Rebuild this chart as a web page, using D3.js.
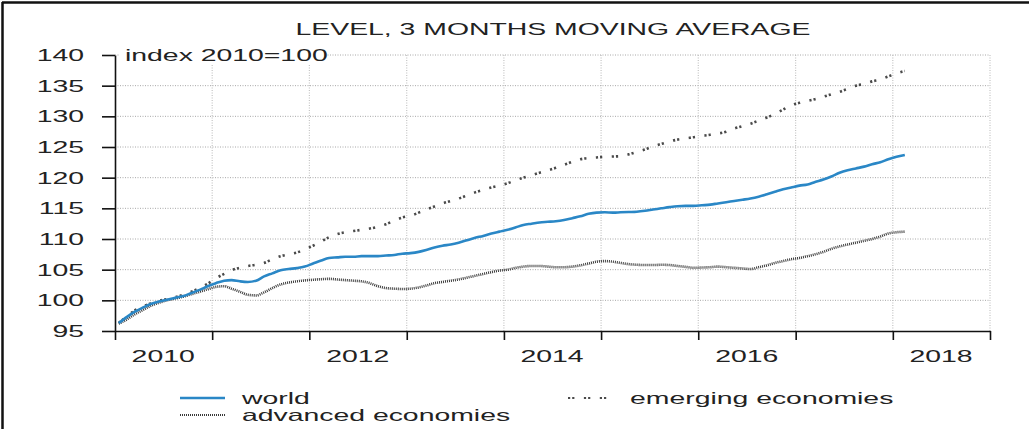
<!DOCTYPE html>
<html>
<head>
<meta charset="utf-8">
<script src="https://cdn.jsdelivr.net/npm/d3@7"></script>
<style>
  body { margin: 0; background: #fff; }
  text { font-family: "Liberation Sans", Arial, sans-serif; fill: #222; }
</style>
</head>
<body>
<div id="chart"></div>
<script>
// monthly data, Jan 2010 - Feb 2018, index 2010=100
var months = d3.timeMonth.range(new Date(2010, 0, 1), new Date(2018, 2, 1)).map(function(d) {
    return new Date(d.getFullYear(), d.getMonth(), 15);
});

var world = [
    96.3, 97.3, 98.1, 98.8, 99.4, 99.8, 100.1, 100.4, 100.7, 101.2, 101.7, 102.3,
    102.8, 103.2, 103.3, 103.1, 103.0, 103.2, 103.9, 104.4, 104.9, 105.1, 105.25, 105.5,
    106.0, 106.5, 106.9, 107.0, 107.1, 107.1, 107.2, 107.2, 107.2, 107.3, 107.4, 107.6,
    107.7, 107.9, 108.2, 108.6, 108.9, 109.1, 109.4, 109.8, 110.2, 110.5, 110.9, 111.2,
    111.5, 111.9, 112.3, 112.5, 112.7, 112.8, 112.9, 113.1, 113.4, 113.7, 114.1, 114.3,
    114.35, 114.3, 114.35, 114.4, 114.45, 114.6, 114.8, 115.0, 115.2, 115.35, 115.4, 115.4,
    115.5, 115.6, 115.8, 116.0, 116.2, 116.4, 116.6, 116.9, 117.3, 117.7, 118.1, 118.4,
    118.7, 118.9, 119.3, 119.7, 120.2, 120.8, 121.2, 121.5, 121.8, 122.2, 122.5, 123.0,
    123.4, 123.7
];

var advanced = [
    96.2, 96.9, 97.7, 98.4, 99.1, 99.6, 100.0, 100.3, 100.6, 101.0, 101.4, 101.8,
    102.2, 102.3, 101.9, 101.4, 100.9, 100.8, 101.3, 102.0, 102.6, 102.9, 103.1, 103.25,
    103.35, 103.45, 103.5, 103.4, 103.3, 103.2, 103.1, 102.8, 102.3, 102.0, 101.9, 101.85,
    101.9, 102.1, 102.4, 102.8, 103.0, 103.2, 103.4, 103.7, 104.0, 104.3, 104.6, 104.85,
    105.0, 105.3, 105.5, 105.6, 105.6, 105.5, 105.4, 105.4, 105.5, 105.7, 106.0, 106.3,
    106.4, 106.3, 106.1, 105.9, 105.8, 105.75, 105.75, 105.8, 105.75, 105.6, 105.45, 105.3,
    105.35, 105.4, 105.5, 105.4, 105.3, 105.2, 105.1, 105.4, 105.7, 106.1, 106.4, 106.7,
    106.9, 107.2, 107.5, 107.9, 108.4, 108.8, 109.1, 109.4, 109.7, 110.0, 110.4, 110.9,
    111.1, 111.2
];

var emerging = [
    96.3, 97.4, 98.3, 99.0, 99.5, 99.9, 100.2, 100.5, 100.9, 101.4, 102.0, 102.7,
    103.6, 104.3, 104.9, 105.3, 105.6, 105.8, 106.1, 106.7, 107.2, 107.5, 107.8, 108.3,
    108.9, 109.6, 110.3, 110.8, 111.1, 111.3, 111.5, 111.7, 112.0, 112.4, 113.0, 113.5,
    113.8, 114.3, 114.8, 115.3, 115.8, 116.2, 116.6, 117.1, 117.6, 118.0, 118.4, 118.7,
    119.1, 119.6, 120.0, 120.4, 120.8, 121.2, 121.6, 122.1, 122.6, 123.0, 123.2, 123.3,
    123.4, 123.45, 123.5, 123.8, 124.2, 124.6, 125.1, 125.5, 125.9, 126.2, 126.4, 126.6,
    126.8, 127.0, 127.2, 127.5, 128.0, 128.4, 128.8, 129.3, 129.8, 130.4, 131.1, 131.8,
    132.2, 132.5, 132.8, 133.2, 133.6, 134.0, 134.5, 135.0, 135.3, 135.7, 136.0, 136.5,
    137.0, 137.4
];

var yTicks = [95, 100, 105, 110, 115, 120, 125, 130, 135, 140];
var yearTicks = [2010, 2011, 2012, 2013, 2014, 2015, 2016, 2017, 2018, 2019];
var yearLabels = [2010, 2012, 2014, 2016, 2018];

var W = 1029, H = 429;
var SX = 1.72; // the original text is stretched sideways
var FS = 16.5;

var svg = d3.select("#chart").append("svg")
    .attr("width", W)
    .attr("height", H);

var x = d3.scaleTime()
    .domain([new Date(2010, 0, 1), new Date(2019, 0, 1)])
    .range([115, 990]);

var y = d3.scaleLinear()
    .domain([95, 140])
    .range([331, 55]);

function yr(v) { return new Date(v, 0, 1); }

function label(g, px, py, s, anchor) {
    return g.append("text")
        .attr("transform", "translate(" + px + "," + py + ") scale(" + SX + ",1)")
        .attr("text-anchor", anchor || "start")
        .style("font-size", FS + "px")
        .text(s);
}

// frame (left + top only)
svg.append("line").attr("x1", 2).attr("x2", W).attr("y1", 2.5).attr("y2", 2.5)
    .attr("stroke", "#111").attr("stroke-width", 2.5);
svg.append("line").attr("x1", 2.5).attr("x2", 2.5).attr("y1", 2).attr("y2", H)
    .attr("stroke", "#111").attr("stroke-width", 2.5);

// grid
var grid = svg.append("g");
grid.selectAll(".hg")
    .data(yTicks.slice(1))
    .enter().append("line")
    .attr("x1", x.range()[0]).attr("x2", x.range()[1])
    .attr("y1", function(d) { return y(d); })
    .attr("y2", function(d) { return y(d); })
    .attr("stroke", "#a8a8a8").attr("stroke-width", 1)
    .attr("stroke-dasharray", "1,1.5");
grid.selectAll(".vg")
    .data(yearTicks.slice(1))
    .enter().append("line")
    .attr("x1", function(d) { return x(yr(d)); })
    .attr("x2", function(d) { return x(yr(d)); })
    .attr("y1", y(140)).attr("y2", y(95))
    .attr("stroke", "#b8b8b8").attr("stroke-width", 1)
    .attr("stroke-dasharray", "1,1.5");

// axes
var yAxis = svg.append("g")
    .attr("transform", "translate(115,0)")
    .call(d3.axisLeft(y).tickValues(yTicks).tickSize(13).tickSizeOuter(0).tickFormat(""));
var xAxis = svg.append("g")
    .attr("transform", "translate(0,331)")
    .call(d3.axisBottom(x).tickValues(yearTicks.map(yr)).tickSize(9).tickSizeOuter(0).tickFormat(""));
svg.selectAll(".domain, .tick line")
    .attr("stroke", "#111")
    .attr("stroke-width", 1.6);

yTicks.forEach(function(v) {
    label(svg, 84, y(v) + 6, v, "end");
});
yearLabels.forEach(function(v) {
    label(svg, x(new Date(v, 6, 1)), 362, v, "middle");
});

// lines
var line = d3.line()
    .x(function(d, i) { return x(months[i]); })
    .y(function(d) { return y(d); })
    .curve(d3.curveMonotoneX);

svg.append("path").datum(advanced)
    .attr("d", line)
    .attr("fill", "none")
    .attr("stroke", "#3a3a3a")
    .attr("stroke-width", 2.6)
    .attr("stroke-dasharray", "1,1");

svg.append("path").datum(emerging)
    .attr("d", line)
    .attr("fill", "none")
    .attr("stroke", "#4a4a4a")
    .attr("stroke-width", 2.6)
    .attr("stroke-dasharray", "2.2,2,2.2,9.5");

svg.append("path").datum(world)
    .attr("d", line)
    .attr("fill", "none")
    .attr("stroke", "#2a87c6")
    .attr("stroke-width", 2.6);

// unit note with white box over the top gridline
svg.append("rect").attr("x", 120).attr("y", 46).attr("width", 204).attr("height", 18).attr("fill", "#fff");
label(svg, 125, 61, "index 2010=100");

// title
label(svg, 553, 35, "LEVEL, 3 MONTHS MOVING AVERAGE", "middle");

// legend
var legend = [
    { name: "world", x: 180, y: 404, color: "#2a87c6", dash: null },
    { name: "advanced economies", x: 180, y: 421, color: "#3a3a3a", dash: "1,1" },
    { name: "emerging economies", x: 568, y: 404, color: "#4a4a4a", dash: "2.2,2,2.2,9.5" }
];
legend.forEach(function(l) {
    svg.append("line")
        .attr("x1", l.x).attr("x2", l.x + 45)
        .attr("y1", l.y - 6).attr("y2", l.y - 6)
        .attr("stroke", l.color)
        .attr("stroke-width", l.dash ? 2.2 : 2.6)
        .attr("stroke-dasharray", l.dash);
    label(svg, l.x + 62, l.y, l.name);
});
</script>
</body>
</html>
